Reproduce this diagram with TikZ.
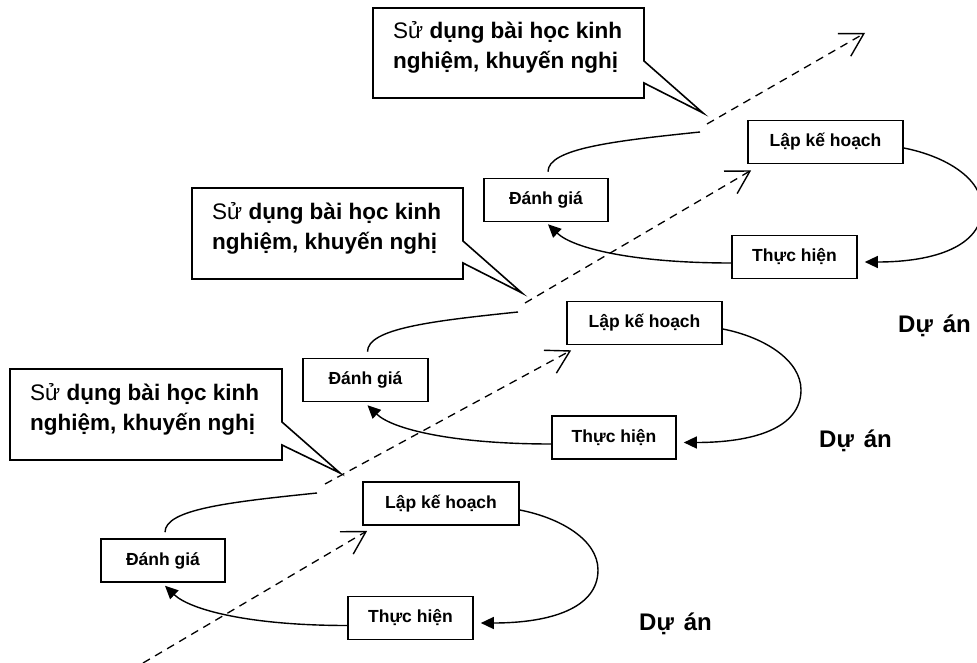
\documentclass[tikz,border=0pt]{standalone}
\usepackage{fontspec}
\setmainfont{Liberation Sans}
\usetikzlibrary{arrows.meta}
\begin{document}
\begin{tikzpicture}[x=1pt,y=-1pt,
  stage/.style={draw, line width=1.6pt, minimum height=43pt, inner sep=0pt,
    font=\fontsize{17.5}{20}\selectfont\bfseries},
  callout/.style={draw, line width=1.6pt, line join=miter},
  calltext/.style={inner sep=0pt, anchor=base west,
    font=\fontsize{22.5}{27}\selectfont\bfseries},
  proj/.style={inner sep=0pt, anchor=base west,
    font=\fontsize{24}{28}\selectfont\bfseries},
  flow/.style={line width=1.4pt},
  back/.style={line width=1.4pt, -{Triangle[length=13pt,width=12pt]}},
  lesson/.style={line width=1.3pt, dash pattern=on 8pt off 6pt,
    -{Straight Barb[angle=60:26pt, line width=1.4pt]}}
]
\useasboundingbox (0,0) rectangle (977,663);
\fill[white] (0,0) rectangle (977,663);
\clip (0,0) rectangle (977,663);

% ---------- project 1 ----------
\node[stage, minimum width=156pt] (L1) at (441,503.5) {Lập kế hoạch};
\node[stage, minimum width=124pt] (D1) at (163,560.5) {Đánh giá};
\node[stage, minimum width=125pt] (T1) at (410.5,618) {Thực hiện};
\node[proj] (P1) at (639,630) {Dự\hspace{10pt}án};

% ---------- project 2 ----------
\node[stage, minimum width=155pt] (L2) at (644.5,323) {Lập kế hoạch};
\node[stage, minimum width=125pt] (D2) at (365.5,380) {Đánh giá};
\node[stage, minimum width=124pt] (T2) at (614,437.5) {Thực hiện};
\node[proj] (P2) at (819,447) {Dự\hspace{10pt}án};

% ---------- project 3 ----------
\node[stage, minimum width=155pt] (L3) at (825.5,142) {Lập kế hoạch};
\node[stage, minimum width=124pt] (D3) at (546,200) {Đánh giá};
\node[stage, minimum width=125pt] (T3) at (794.5,257) {Thực hiện};
\node[proj] (P3) at (898,332) {Dự\hspace{10pt}án};

% ---------- callouts ----------
\coordinate (k1) at (340,473);
\coordinate (k2) at (522,293);
\coordinate (k3) at (703,113);
\draw[callout] (10,369) -- (282,369) -- (282,422) -- (k1) -- (282,445)
  -- (282,460) -- (10,460) -- cycle;
\draw[callout] (192,188) -- (463,188) -- (463,241) -- (k2) -- (463,263)
  -- (463,279) -- (192,279) -- cycle;
\draw[callout] (373,8) -- (644,8) -- (644,61) -- (k3) -- (644,83)
  -- (644,98) -- (373,98) -- cycle;
\node[calltext] (c1a) at (30,400) {{\mdseries Sử} dụng bài học kinh};
\node[calltext] (c1b) at (30,430) {nghiệm, khuyến nghị};
\node[calltext] (c2a) at (212,219) {{\mdseries Sử} dụng bài học kinh};
\node[calltext] (c2b) at (212,249) {nghiệm, khuyến nghị};
\node[calltext] (c3a) at (393,39) {{\mdseries Sử} dụng bài học kinh};
\node[calltext] (c3b) at (393,69) {nghiệm, khuyến nghị};

% ---------- cycles ----------
\coordinate (r1) at (598,570);
\coordinate (r2) at (801,390);
\coordinate (r3) at (982,208);
\draw[flow] ([yshift=-6.5pt]L1.east) .. controls +(41,8) and +(0,-30) .. (r1);
\draw[back] (r1) .. controls +(0,38) and +(70,0) .. ([xshift=7pt,yshift=-5pt]T1.east);
\draw[flow] ([yshift=-6pt]L2.east) .. controls +(41,8) and +(0,-30) .. (r2);
\draw[back] (r2) .. controls +(0,38) and +(70,0) .. ([xshift=7pt,yshift=-5pt]T2.east);
\draw[flow] ([yshift=-6pt]L3.east) .. controls +(41,8) and +(0,-30) .. (r3);
\draw[back] (r3) .. controls +(0,38) and +(70,0) .. ([xshift=7pt,yshift=-5pt]T3.east);

\draw[back] ([yshift=-7.5pt]T1.west) .. controls +(-98,0) and +(25,24) .. ([xshift=2pt,yshift=-3pt]D1.south);
\draw[back] ([yshift=-6.5pt]T2.west) .. controls +(-98,0) and +(25,24) .. ([xshift=2pt,yshift=-3pt]D2.south);
\draw[back] ([yshift=-6pt]T3.west) .. controls +(-98,0) and +(25,24) .. ([xshift=2pt,yshift=-2pt]D3.south);

% evaluation feeds the lessons learned
\coordinate (e1) at (317,493);
\coordinate (e2) at (518,312);
\coordinate (e3) at (700,132);
\draw[flow] ([xshift=2pt,yshift=6pt]D1.north) .. controls +(0,-23) and +(-87,9) .. (e1);
\draw[flow] ([xshift=2pt,yshift=6pt]D2.north) .. controls +(0,-23) and +(-87,9) .. (e2);
\draw[flow] ([xshift=2pt,yshift=6pt]D3.north) .. controls +(0,-23) and +(-87,9) .. (e3);

% lessons carried into the next plan
\coordinate (s0) at (143,663);
\coordinate (s1) at (325,484);
\coordinate (s2) at (525,303);
\coordinate (s3) at (707,124);
\coordinate (s4) at (865,33);
\draw[lesson] (s0) -- ([xshift=5pt,yshift=-5pt]L1.south west);
\draw[lesson] (s1) -- ([xshift=5pt,yshift=-5pt]L2.south west);
\draw[lesson] (s2) -- ([xshift=4pt,yshift=-6pt]L3.south west);
\draw[lesson] (s3) -- (s4);
\end{tikzpicture}
\end{document}
